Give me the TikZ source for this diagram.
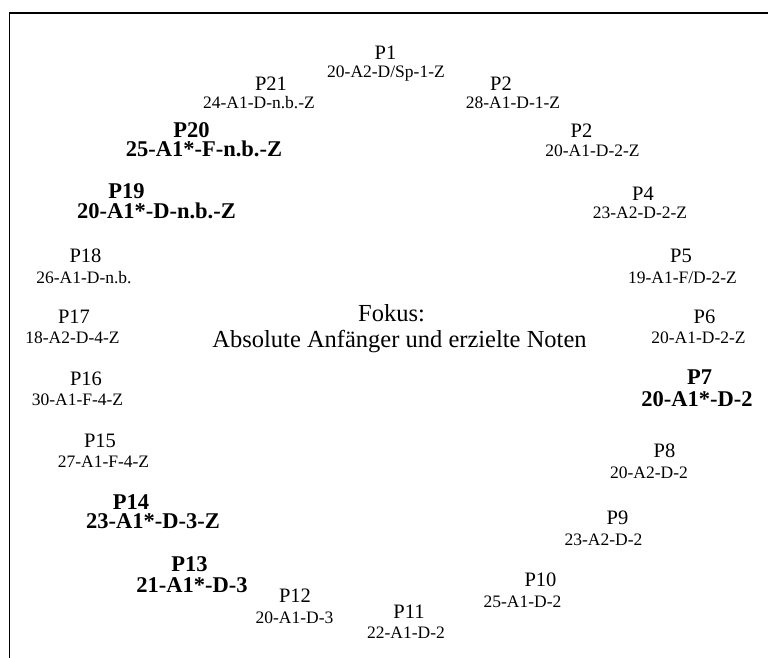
\documentclass[tikz,border=0pt]{standalone}
\usepackage{fontspec}
\setmainfont{Liberation Serif}
\usepackage{tikz}
\usetikzlibrary{positioning}

\tikzset{
  lab/.style={anchor=base,inner sep=0pt,font=\fontsize{20.5}{22}\selectfont},
  code/.style={anchor=base,inner sep=0pt,font=\fontsize{17.5}{19}\selectfont},
  blab/.style={anchor=base,inner sep=0pt,font=\fontsize{22.5}{24}\selectfont\bfseries},
  focus/.style={anchor=base,inner sep=0pt,font=\fontsize{24.5}{26}\selectfont}
}

\begin{document}
\begin{tikzpicture}[x=1pt,y=-1pt]
    \useasboundingbox (0,0) rectangle (768,658);
    \draw[line width=1.6pt] (9.5,660) -- (9.5,13.3) -- (770,13.3);
    \node[focus] (fok) at (391.5,321.5) {Fokus:};
    \node[focus] (fok2) at (399.5,347) {Absolute Anfänger und erzielte Noten};
    \node[lab] (p1) at (385.5,60) {P1};
    \node[code] (c1) at (386,78) {20-A2-D/Sp-1-Z};
    \node[lab] (p2) at (501,91) {P2};
    \node[code] (c2) at (513,109) {28-A1-D-1-Z};
    \node[lab] (p3) at (581.5,138) {P2};
    \node[code] (c3) at (592.5,157) {20-A1-D-2-Z};
    \node[lab] (p4) at (643,200) {P4};
    \node[code] (c4) at (640,218) {23-A2-D-2-Z};
    \node[lab] (p5) at (681,262) {P5};
    \node[code] (c5) at (682.5,283) {19-A1-F/D-2-Z};
    \node[lab] (p6) at (704.5,323) {P6};
    \node[code] (c6) at (698.5,343) {20-A1-D-2-Z};
    \node[blab] (p7) at (699.5,384.5) {P7};
    \node[blab] (c7) at (697,406) {20-A1*-D-2};
    \node[lab] (p8) at (664.5,457) {P8};
    \node[code] (c8) at (649,478) {20-A2-D-2};
    \node[lab] (p9) at (617.5,524) {P9};
    \node[code] (c9) at (603.5,545) {23-A2-D-2};
    \node[lab] (p10) at (540.5,586) {P10};
    \node[code] (c10) at (522.5,607) {25-A1-D-2};
    \node[lab] (p11) at (409,618) {P11};
    \node[code] (c11) at (406,638) {22-A1-D-2};
    \node[lab] (p12) at (295,602) {P12};
    \node[code] (c12) at (294.5,623) {20-A1-D-3};
    \node[blab] (p13) at (189.5,571.5) {P13};
    \node[blab] (c13) at (192,592) {21-A1*-D-3};
    \node[blab] (p14) at (131,509.5) {P14};
    \node[blab] (c14) at (153,528) {23-A1*-D-3-Z};
    \node[lab] (p15) at (100,447) {P15};
    \node[code] (c15) at (103.5,467) {27-A1-F-4-Z};
    \node[lab] (p16) at (86,385) {P16};
    \node[code] (c16) at (77.5,405) {30-A1-F-4-Z};
    \node[lab] (p17) at (74,323) {P17};
    \node[code] (c17) at (72.5,343) {18-A2-D-4-Z};
    \node[lab] (p18) at (85.5,262) {P18};
    \node[code] (c18) at (84,283) {26-A1-D-n.b.};
    \node[blab] (p19) at (126.5,198.5) {P19};
    \node[blab] (c19) at (156.5,218) {20-A1*-D-n.b.-Z};
    \node[blab] (p20) at (191.5,137.5) {P20};
    \node[blab] (c20) at (204,157) {25-A1*-F-n.b.-Z};
    \node[lab] (p21) at (271,91) {P21};
    \node[code] (c21) at (259,109) {24-A1-D-n.b.-Z};
\end{tikzpicture}
\end{document}
